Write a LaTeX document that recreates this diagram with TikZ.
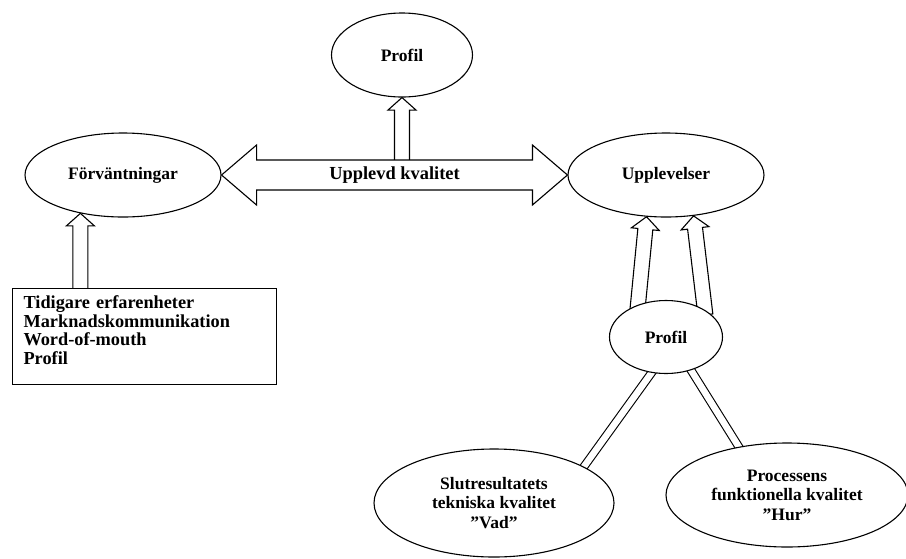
\documentclass[tikz,border=0pt]{standalone}
\usepackage{fontspec}
\setmainfont{Liberation Serif}
\usetikzlibrary{shapes.geometric,calc}
\pgfdeclarelayer{background}
\pgfsetlayers{background,main}
\newcommand{\fatarrow}[2]{%
    \path[fat] let \p1=($(#2)-(#1)$), \n1={veclen(\x1,\y1)}, \n2={atan2(\y1,\x1)} in
        [shift={(#1)}, rotate=\n2] (-5pt,-7.5pt) -- (\n1-12.5pt,-7.5pt) -- (\n1-12.5pt,-14pt)
        -- (\n1,0pt) -- (\n1-12.5pt,14pt) -- (\n1-12.5pt,7.5pt) -- (-5pt,7.5pt) -- cycle;}
\begin{document}
\begin{tikzpicture}[x=1pt,y=-1pt,
    oval/.style={ellipse,draw,fill=white,line width=1.1pt,inner sep=0pt,align=center,
        font=\fontsize{17.5}{19.5}\selectfont\bfseries},
    fat/.style={draw,fill=white,line width=1.1pt},
    dbl/.style={draw,double,double distance=6.5pt,line width=1.1pt,shorten <=-4pt,shorten >=-4pt},
    listbox/.style={draw,fill=white,line width=1.1pt,align=left,text width=242pt,
        inner xsep=11pt,inner ysep=7pt,text height=13pt,text depth=69pt,
        font=\fontsize{18.3}{18.7}\selectfont\bfseries}]
    \useasboundingbox (0,0) rectangle (906,558);
    \node[oval,minimum width=141,minimum height=84] (prof) at (402,55) {Profil};
    \node[oval,minimum width=196,minimum height=84] (forv) at (123,175) {Förväntningar};
    \node[oval,minimum width=196,minimum height=84] (upp) at (666,175) {Upplevelser};
    \node[oval,minimum width=113,minimum height=73] (sp) at (666,337) {Profil};
    \node[oval,minimum width=240,minimum height=108] (slut) at (494,503) {Slutresultatets\\tekniska kvalitet\\''Vad''};
    \node[oval,minimum width=242,minimum height=104] (proc) at (787,495) {Processens\\funktionella kvalitet\\''Hur''};
    \node[listbox,anchor=north west] (box) at (12,288) {Tidigare erfarenheter\\Marknadskommunikation\\Word-of-mouth\\Profil};
    \node[minimum height=30,inner sep=0pt,font=\fontsize{18.4}{20}\selectfont\bfseries] (kval)
        at ($(forv.east)!0.5!(upp.west)$) {Upplevd kvalitet};
    \begin{pgfonlayer}{background}
        \fatarrow{prof.south |- kval.north}{prof.south}
        \path[fat] (forv.east) -- ++(35,-30) -- ++(0,15) -- ($(upp.west)+(-35,-15)$) -- ++(0,-15)
            -- (upp.west) -- ++(-35,30) -- ++(0,-15) -- ($(forv.east)+(35,15)$) -- ++(0,15) -- cycle;
        \fatarrow{forv.-138 |- box.north}{forv.-138}
        \foreach \a/\b in {sp.131/upp.-115,sp.35/upp.-56}
            {\fatarrow{\a}{\b}
            }
        \draw[dbl] (sp.-112) -- (slut.22);
        \draw[dbl] (sp.-53) -- (proc.135);
    \end{pgfonlayer}
\end{tikzpicture}
\end{document}
